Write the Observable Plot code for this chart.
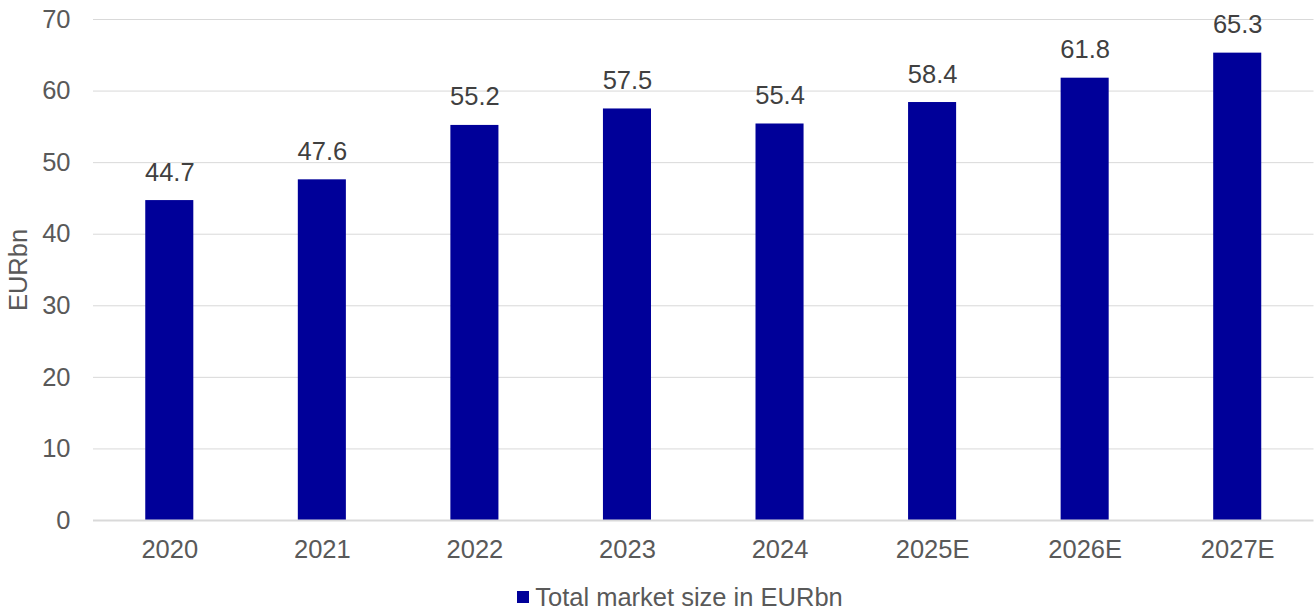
<!DOCTYPE html>
<html>
<head>
<meta charset="utf-8">
<script src="https://cdn.jsdelivr.net/npm/d3@7"></script>
<script src="https://cdn.jsdelivr.net/npm/@observablehq/plot@0.6"></script>
<style>
  body { margin: 0; background: #fff; font-family: "Liberation Sans", Arial, sans-serif; }
  #legend { height: 34px; display: flex; justify-content: center; align-items: center; font-size: 25.5px; color: #595959; padding-left: 44px; margin-top: 5px; }
  #legend .sw { width: 12px; height: 12px; background: #000099; margin-right: 6px; display: inline-block; }
</style>
</head>
<body>
<div id="chart"></div>
<div id="legend"><span class="sw"></span><span>Total market size in EURbn</span></div>
<script>
const years = ["2020", "2021", "2022", "2023", "2024", "2025E", "2026E", "2027E"];
const values = [44.7, 47.6, 55.2, 57.5, 55.4, 58.4, 61.8, 65.3];
const yTicks = [0, 10, 20, 30, 40, 50, 60, 70];
const seriesName = "Total market size in EURbn";
const yLabel = "EURbn";

const data = years.map((y, i) => ({year: y, value: values[i]}));
const fs = 25.5;

const chart = Plot.plot({
  width: 1316,
  height: 575,
  marginTop: 19,
  marginBottom: 55,
  marginLeft: 93,
  marginRight: 2.5,
  style: {fontFamily: "'Liberation Sans', Arial, sans-serif", fontSize: fs + "px", color: "#595959", background: "#fff", overflow: "visible"},
  x: {domain: years, paddingInner: 0.685, paddingOuter: 0.3425, round: false, label: null},
  y: {domain: [0, 70], ticks: yTicks, label: null},
  marks: [
    Plot.gridY(yTicks.filter(t => t > 0), {stroke: "#d9d9d9", strokeOpacity: 1, strokeWidth: 1}),
    Plot.barY(data, {x: "year", y: "value", fill: "#000099"}),
    Plot.ruleY([0], {stroke: "#d9d9d9", strokeWidth: 2}),
    Plot.axisY({ticks: yTicks, tickSize: 0, tickPadding: 23, fontSize: fs, fill: "#595959", label: null}),
    Plot.axisX({tickSize: 0, tickPadding: 19, fontSize: fs, fill: "#595959", label: null}),
    Plot.text([yLabel], {frameAnchor: "left", textAnchor: "middle", rotate: -90, dx: -75, fontSize: fs, fill: "#595959"}),
    Plot.text(data, {x: "year", y: "value", text: d => d.value.toFixed(1), lineAnchor: "bottom", dy: -20, fontSize: fs, fill: "#404040"})
  ]
});
document.getElementById("chart").appendChild(chart);
</script>
</body>
</html>
